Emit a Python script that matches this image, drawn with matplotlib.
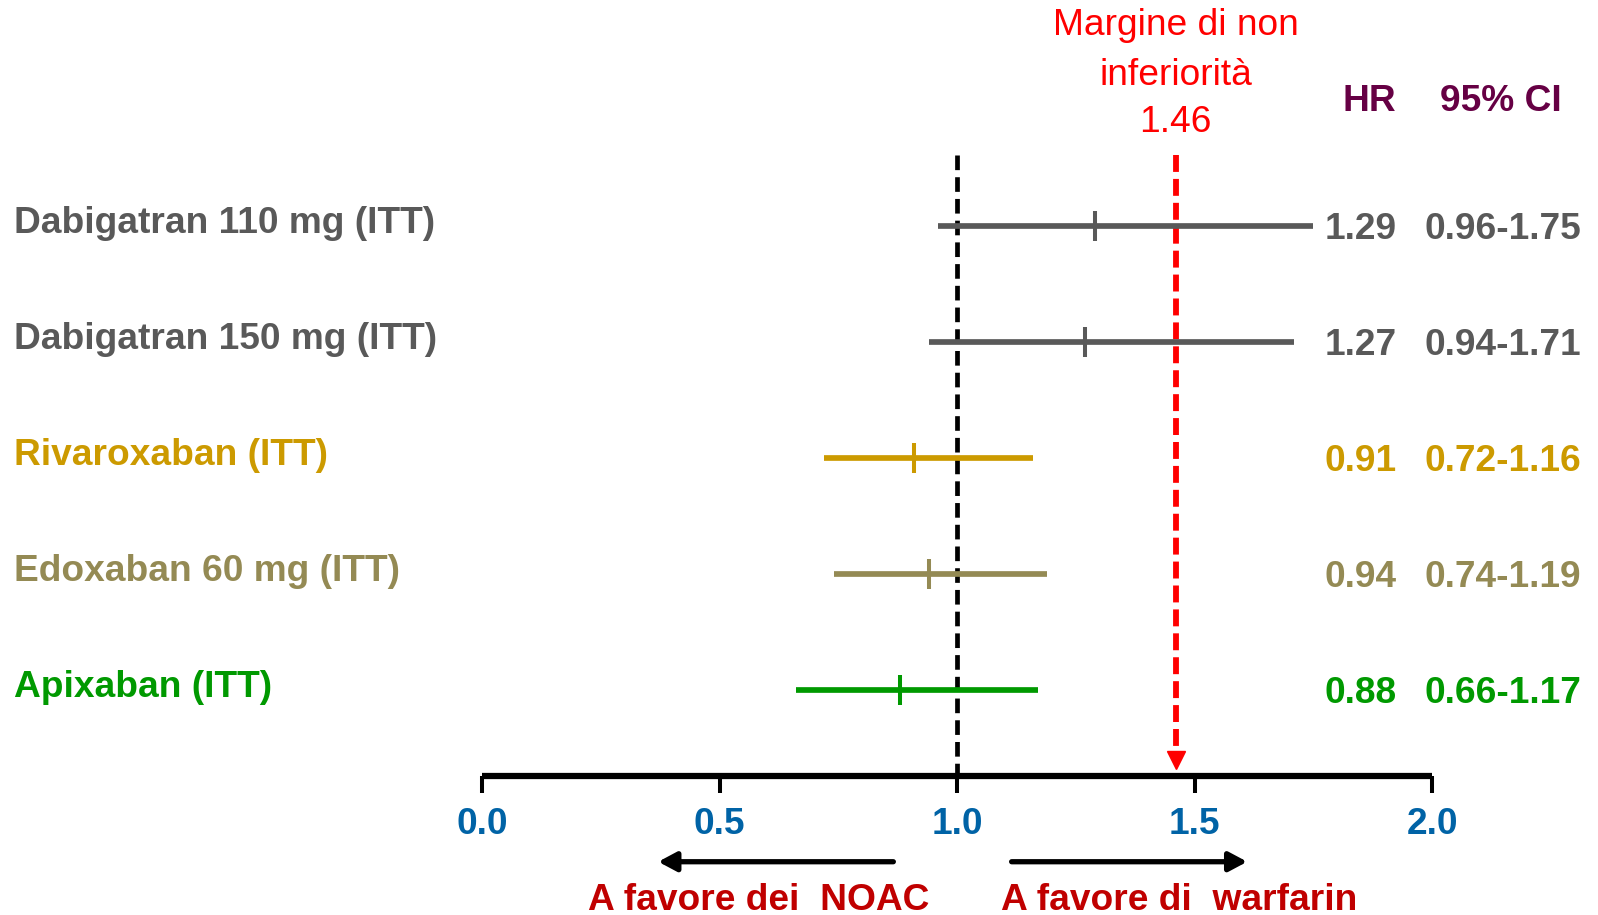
import matplotlib.pyplot as plt
import matplotlib.transforms as mtransforms

plt.rcParams['font.family'] = ['Liberation Sans', 'DejaVu Sans']

# Trial results: hazard ratio and 95% confidence interval
drugs = ['Dabigatran 110 mg (ITT)', 'Dabigatran 150 mg (ITT)', 'Rivaroxaban (ITT)',
         'Edoxaban 60 mg (ITT)', 'Apixaban (ITT)']
hr = [1.29, 1.27, 0.91, 0.94, 0.88]
ci_low = [0.96, 0.94, 0.72, 0.74, 0.66]
ci_high = [1.75, 1.71, 1.16, 1.19, 1.17]
colors = ['#595959', '#595959', '#cc9a00', '#948a54', '#009900']

margin = 1.46
xticks = [0.0, 0.5, 1.0, 1.5, 2.0]

fs = 26.7
fig = plt.figure(figsize=(15.98, 9.15), dpi=100)
ax = fig.add_axes([482 / 1598, (915 - 776) / 915, 950 / 1598, 776 / 915])
ax.set_xlim(0, 2)
ax.set_ylim(4.741, -1.948)

for s in ['top', 'left', 'right']:
    ax.spines[s].set_visible(False)
ax.spines['bottom'].set_linewidth(4.5)
ax.spines['bottom'].set_capstyle('butt')
ax.set_yticks([])
ax.set_xticks(xticks)
ax.set_xticklabels([f'{t:.1f}' for t in xticks], fontsize=fs, fontweight='bold', color='#0063a6')
ax.tick_params(axis='x', direction='out', length=12, width=2.9, pad=10)

# reference line at HR = 1
ax.plot([1.0, 1.0], [-0.612, 4.741], color='black', lw=3.4, dashes=(3.1, 1.5), clip_on=False)

# non-inferiority margin
ax.plot([margin, margin], [-0.612, 4.534], color='#ff0000', lw=4.2, dashes=(2.9, 1.2), clip_on=False)
ax.plot([margin], [4.603], marker='v', markersize=12.5, color='#ff0000', clip_on=False)
for line, y in zip(['Margine di non', 'inferiorità', f'{margin:.2f}'], [-1.725, -1.30, -0.888]):
    ax.text(margin, y, line, color='#ff0000', fontsize=fs, ha='center', va='center')

fig_x = mtransforms.blended_transform_factory(fig.transFigure, ax.transData)

ax.text(1369 / 1598, -1.077, 'HR', transform=fig_x, ha='center', va='center',
        fontsize=fs, fontweight='bold', color='#660044')
ax.text(1501 / 1598, -1.077, '95% CI', transform=fig_x, ha='center', va='center',
        fontsize=fs, fontweight='bold', color='#660044')

for i, (name, h, lo, hi, c) in enumerate(zip(drugs, hr, ci_low, ci_high, colors)):
    ax.plot([lo, hi], [i, i], color=c, lw=4.1, solid_capstyle='butt', clip_on=False)
    ax.plot([h], [i], marker='|', markersize=22, mew=2.9, color=c, clip_on=False)
    ax.text(14 / 1598, i - 0.02, name, transform=fig_x, ha='left', va='center',
            fontsize=fs, fontweight='bold', color=c)
    ax.text(1325 / 1598, i + 0.03, f'{h:.2f}', transform=fig_x, ha='left', va='center',
            fontsize=fs, fontweight='bold', color=c)
    ax.text(1424 / 1598, i + 0.03, f'{lo:.2f}-{hi:.2f}', transform=fig_x, ha='left', va='center',
            fontsize=fs, fontweight='bold', color=c)

# direction arrows under the axis
arrow_kw = dict(arrowstyle='-|>,head_length=0.3,head_width=0.16', mutation_scale=36,
                lw=3.8, color='black', shrinkA=0, shrinkB=0)
ax.annotate('', xy=(0.371, 5.48), xytext=(0.866, 5.48), arrowprops=arrow_kw, annotation_clip=False)
ax.annotate('', xy=(1.611, 5.48), xytext=(1.115, 5.48), arrowprops=arrow_kw, annotation_clip=False)
ax.text(0.582, 5.815, 'A favore dei  NOAC', ha='center', va='center', fontsize=fs,
        fontweight='bold', color='#c00000')
ax.text(1.468, 5.815, 'A favore di  warfarin', ha='center', va='center', fontsize=fs,
        fontweight='bold', color='#c00000')

fig.savefig('out.png', dpi=100)
